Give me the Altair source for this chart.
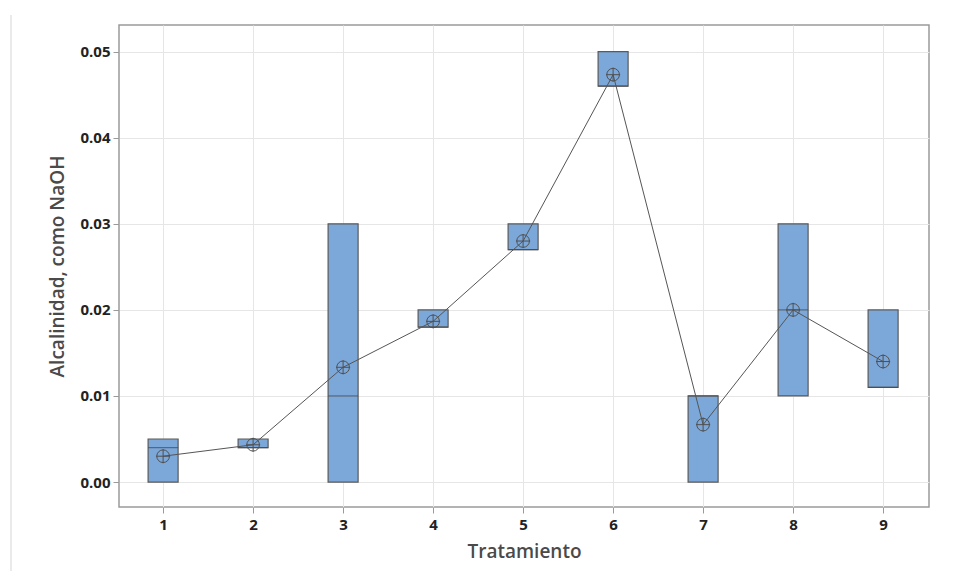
import altair as alt
import pandas as pd

tratamiento = [1, 2, 3, 4, 5, 6, 7, 8, 9]
q1 = [0.000, 0.004, 0.000, 0.018, 0.027, 0.046, 0.000, 0.010, 0.011]
q3 = [0.005, 0.005, 0.030, 0.020, 0.030, 0.050, 0.010, 0.030, 0.020]
mediana = [0.004, 0.004, 0.010, 0.018, 0.027, 0.046, 0.010, 0.020, 0.011]
media = [0.0030, 0.00433, 0.01333, 0.01867, 0.0280, 0.04733, 0.00667, 0.0200, 0.0140]

df = pd.DataFrame({"t": tratamiento, "q1": q1, "q3": q3, "med": mediana, "mean": media})

FONT = "Open Sans"
x = alt.X("t:Q", scale=alt.Scale(domain=[0.51, 9.51], nice=False, zero=False, padding=0),
          axis=alt.Axis(values=tratamiento, format="d", title="Tratamiento", grid=True))
y = alt.Y("q1:Q", scale=alt.Scale(domain=[-0.0029, 0.0531], nice=False, zero=False, padding=0),
          axis=alt.Axis(values=[0, 0.01, 0.02, 0.03, 0.04, 0.05], format=".2f",
                        title="Alcalinidad, como NaOH", grid=True))

base = alt.Chart(df)
boxes = base.mark_bar(size=30, color="#7ba7d9", stroke="#5a5a5a", strokeWidth=1.2).encode(
    x=x, y=y, y2="q3:Q")
medians = base.mark_tick(orient="horizontal", size=30, thickness=1.2, color="#4a4a4a").encode(
    x="t:Q", y="med:Q")
line = base.mark_line(color="#555555", strokeWidth=1).encode(x="t:Q", y="mean:Q")
circles = base.mark_point(shape="circle", size=160, filled=False, color="#505050",
                          strokeWidth=1, opacity=1).encode(x="t:Q", y="mean:Q")
crosses = base.mark_point(shape="M-1,0H1M0,-1V1", size=200, filled=False, color="#505050",
                          strokeWidth=1, opacity=1).encode(x="t:Q", y="mean:Q")

edge = alt.Chart(pd.DataFrame({"a": [0]})).mark_rule(color="#e3e3e3", strokeWidth=1.5, clip=False).encode(
    x=alt.value(-108), y=alt.value(-10), y2=alt.value(560))

chart = alt.layer(edge, boxes, medians, line, circles, crosses).properties(
    width=810, height=482,
    autosize=alt.AutoSizeParams(type="none"),
    padding={"left": 111, "top": 17, "right": 22, "bottom": 64},
).configure_view(stroke="#9a9a9a", strokeWidth=1.5).configure_axis(
    domain=False, gridColor="#e6e6e6", gridWidth=1, tickColor="#9a9a9a", tickSize=6,
    labelFont=FONT, labelFontSize=15, labelFontWeight="bold", labelColor="#222222",
    titleFont=FONT, titleFontSize=19, titleFontWeight=600, titleColor="#4a4a4a",
).configure_axisX(labelPadding=4, titlePadding=10).configure_axisY(labelPadding=3, titlePadding=12)

chart.save("out.html", embed_options={"renderer": "svg", "actions": False})
